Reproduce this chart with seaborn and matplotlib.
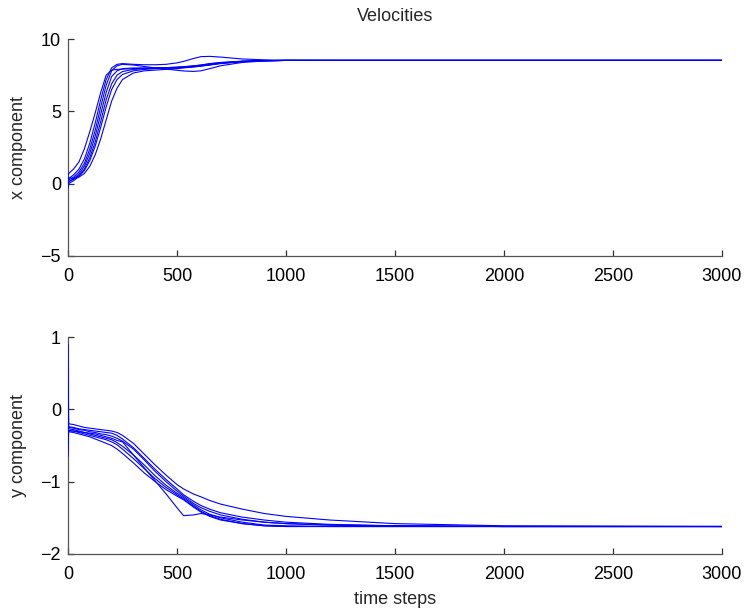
import numpy as np
import pandas as pd
import matplotlib
matplotlib.use("Agg")
import matplotlib.pyplot as plt
import seaborn as sns

# Sample times (simulation steps) at which each agent's velocity is recorded
steps = [0, 3, 25, 50, 75, 100, 125, 150, 175, 200, 225, 250, 300, 350, 400,
         450, 500, 530, 575, 610, 650, 700, 800, 900, 1000, 1200, 1500, 2000, 3000]

# x component of velocity for each agent
vx_1 = [0.6, 0.7, 1.0, 1.5, 2.4, 3.6, 4.9, 6.3, 7.5, 7.85, 7.9, 7.92, 7.95, 7.97, 8.0,
        8.02, 8.05, 8.08, 8.14, 8.2, 8.3, 8.38, 8.47, 8.5, 8.52, 8.52, 8.52, 8.52, 8.52]
vx_2 = [0.3, 0.35, 0.6, 1.0, 1.7, 2.8, 4.2, 5.8, 7.2, 8.0, 8.25, 8.3, 8.25, 8.22, 8.22,
        8.25, 8.35, 8.45, 8.65, 8.78, 8.8, 8.75, 8.62, 8.56, 8.53, 8.52, 8.52, 8.52, 8.52]
vx_3 = [0.2, 0.25, 0.45, 0.8, 1.4, 2.4, 3.7, 5.3, 6.8, 7.8, 8.15, 8.25, 8.2, 8.1, 8.0,
        7.92, 7.84, 7.79, 7.76, 7.8, 7.95, 8.15, 8.38, 8.48, 8.52, 8.52, 8.52, 8.52, 8.52]
vx_4 = [0.0, 0.1, 0.35, 0.65, 1.2, 2.1, 3.3, 4.8, 6.3, 7.4, 7.8, 7.95, 8.0, 8.0, 8.0,
        8.02, 8.05, 8.08, 8.14, 8.2, 8.28, 8.36, 8.46, 8.5, 8.52, 8.52, 8.52, 8.52, 8.52]
vx_5 = [0.1, 0.15, 0.3, 0.55, 1.0, 1.8, 2.9, 4.3, 5.8, 6.9, 7.5, 7.75, 7.9, 7.95, 7.98,
        8.0, 8.02, 8.05, 8.1, 8.15, 8.22, 8.32, 8.45, 8.5, 8.52, 8.52, 8.52, 8.52, 8.52]
vx_6 = [0.5, 0.4, 0.35, 0.45, 0.7, 1.2, 2.0, 3.1, 4.4, 5.7, 6.6, 7.2, 7.65, 7.8, 7.85,
        7.9, 7.95, 8.0, 8.06, 8.12, 8.2, 8.3, 8.43, 8.5, 8.52, 8.52, 8.52, 8.52, 8.52]
vx_7 = [-0.3, 0.0, 0.2, 0.5, 0.9, 1.6, 2.6, 3.9, 5.3, 6.5, 7.2, 7.55, 7.8, 7.9, 7.95,
        7.98, 8.0, 8.03, 8.08, 8.14, 8.22, 8.32, 8.45, 8.5, 8.52, 8.52, 8.52, 8.52, 8.52]

# y component of velocity for each agent
vy_1 = [0.9, -0.2, -0.21, -0.23, -0.25, -0.26, -0.27, -0.28, -0.29, -0.3, -0.32, -0.36,
        -0.47, -0.62, -0.77, -0.91, -1.04, -1.1, -1.17, -1.21, -1.26, -1.31, -1.38, -1.44,
        -1.48, -1.53, -1.58, -1.61, -1.62]
vy_2 = [-0.65, -0.3, -0.3, -0.31, -0.32, -0.33, -0.34, -0.36, -0.38, -0.4, -0.43, -0.45,
        -0.63, -0.81, -0.99, -1.17, -1.36, -1.47, -1.46, -1.44, -1.46, -1.49, -1.53, -1.56,
        -1.58, -1.6, -1.61, -1.62, -1.62]
vy_3 = [0.3, -0.25, -0.26, -0.28, -0.29, -0.31, -0.32, -0.34, -0.35, -0.37, -0.4, -0.44,
        -0.55, -0.7, -0.86, -1.0, -1.13, -1.2, -1.3, -1.36, -1.41, -1.46, -1.52, -1.56,
        -1.58, -1.6, -1.61, -1.62, -1.62]
vy_4 = [-0.25, -0.27, -0.28, -0.3, -0.32, -0.34, -0.36, -0.38, -0.4, -0.42, -0.46, -0.51,
        -0.63, -0.77, -0.92, -1.05, -1.16, -1.22, -1.32, -1.39, -1.45, -1.5, -1.56, -1.6,
        -1.61, -1.62, -1.62, -1.62, -1.62]
vy_5 = [-0.28, -0.29, -0.3, -0.32, -0.34, -0.36, -0.38, -0.4, -0.42, -0.45, -0.49, -0.55,
        -0.68, -0.82, -0.96, -1.08, -1.18, -1.24, -1.34, -1.41, -1.47, -1.52, -1.58, -1.61,
        -1.62, -1.62, -1.62, -1.62, -1.62]
vy_6 = [-0.22, -0.24, -0.25, -0.27, -0.28, -0.29, -0.3, -0.31, -0.32, -0.33, -0.36, -0.41,
        -0.53, -0.68, -0.83, -0.97, -1.1, -1.18, -1.27, -1.33, -1.38, -1.43, -1.49, -1.53,
        -1.56, -1.59, -1.61, -1.62, -1.62]
vy_7 = [-0.3, -0.31, -0.32, -0.34, -0.36, -0.38, -0.41, -0.44, -0.47, -0.5, -0.55, -0.61,
        -0.74, -0.88, -1.0, -1.11, -1.2, -1.25, -1.35, -1.42, -1.48, -1.53, -1.58, -1.61,
        -1.62, -1.62, -1.62, -1.62, -1.62]

x_series = [vx_1, vx_2, vx_3, vx_4, vx_5, vx_6, vx_7]
y_series = [vy_1, vy_2, vy_3, vy_4, vy_5, vy_6, vy_7]

xticks_all = [0, 500, 1000, 1500, 2000, 2500, 3000]
yticks_top = [-5, 0, 5, 10]
yticks_bottom = [-2, -1, 0, 1]

rows = []
for i, (vx, vy) in enumerate(zip(x_series, y_series)):
    assert len(vx) == len(steps) and len(vy) == len(steps)
    for t, a, b in zip(steps, vx, vy):
        rows.append({"step": t, "agent": i, "vx": a, "vy": b})
df = pd.DataFrame(rows)

sns.set_theme(style="white")
plt.rcParams["font.family"] = ["Liberation Sans", "DejaVu Sans"]
plt.rcParams["axes.unicode_minus"] = True

FS = 13
fig = plt.figure(figsize=(7.46, 6.10), dpi=100)
W, H = 746, 610
ax1 = fig.add_axes([68 / W, 1 - 256 / H, (722 - 68) / W, (256 - 39) / H])
ax2 = fig.add_axes([68 / W, 1 - 554 / H, (722 - 68) / W, (554 - 337) / H])

palette = ["#0000ff"] * len(x_series)
sns.lineplot(data=df, x="step", y="vx", hue="agent", palette=palette,
             estimator=None, legend=False, linewidth=0.8, ax=ax1, zorder=3)
sns.lineplot(data=df, x="step", y="vy", hue="agent", palette=palette,
             estimator=None, legend=False, linewidth=0.8, ax=ax2, zorder=3)

for ax, yt, ylim in [(ax1, yticks_top, (-5, 10)), (ax2, yticks_bottom, (-2, 1))]:
    ax.set_xlim(0, 3000)
    ax.set_ylim(*ylim)
    ax.set_xticks(xticks_all)
    ax.set_yticks(yt)
    for s in ["top", "right"]:
        ax.spines[s].set_visible(False)
    for s in ["left", "bottom"]:
        ax.spines[s].set_color("#555555")
        ax.spines[s].set_linewidth(0.9)
    ax.tick_params(direction="in", length=4.5, width=0.9, color="#333333",
                   labelsize=FS, left=True, bottom=True, labelcolor="black")
    ax.tick_params(axis="x", pad=8.5)
    ax.tick_params(axis="y", pad=5)
    ax.set_facecolor("white")

ax1.set_title("Velocities", fontsize=FS, pad=13)
ax1.set_xlabel("")
ax1.set_ylabel("x component", fontsize=FS, labelpad=10)
ax2.set_ylabel("y component", fontsize=FS, labelpad=10)
ax2.set_xlabel("time steps", fontsize=FS, labelpad=6)

fig.savefig("out.png", dpi=100, facecolor="white")
